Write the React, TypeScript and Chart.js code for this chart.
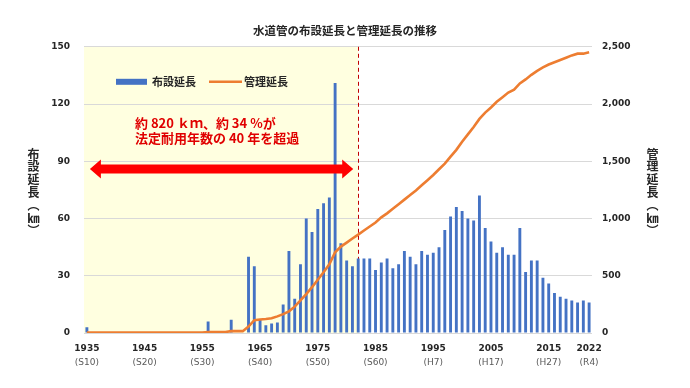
import { useEffect, useRef } from 'react';
import { Chart, registerables } from 'chart.js';

Chart.register(...registerables);

// ---- data ----
const years = [
  1935, 1936, 1937, 1938, 1939, 1940, 1941, 1942, 1943, 1944,
  1945, 1946, 1947, 1948, 1949, 1950, 1951, 1952, 1953, 1954,
  1955, 1956, 1957, 1958, 1959, 1960, 1961, 1962, 1963, 1964,
  1965, 1966, 1967, 1968, 1969, 1970, 1971, 1972, 1973, 1974,
  1975, 1976, 1977, 1978, 1979, 1980, 1981, 1982, 1983, 1984,
  1985, 1986, 1987, 1988, 1989, 1990, 1991, 1992, 1993, 1994,
  1995, 1996, 1997, 1998, 1999, 2000, 2001, 2002, 2003, 2004,
  2005, 2006, 2007, 2008, 2009, 2010, 2011, 2012, 2013, 2014,
  2015, 2016, 2017, 2018, 2019, 2020, 2021, 2022,
];

// 布設延長 (km) per year
const placedLength = [
  3, 0, 0, 0, 0, 0, 0, 0, 0, 0,
  0, 0, 0, 0, 0, 0, 0, 0, 0, 0,
  0, 6, 0, 0, 0, 7, 0, 0, 40, 35,
  7, 4, 5, 5.5, 15, 43, 18, 36, 60, 53,
  65, 68, 71, 131, 47, 38, 35, 39, 39, 39,
  33, 37, 39, 34, 36, 43, 40, 36, 43, 41,
  42, 45, 54, 61, 66, 64, 60, 59, 72, 55,
  48, 42, 45, 41, 41, 55, 32, 38, 38, 29,
  26, 21, 19, 18, 17, 16, 17, 16,
];

// 管理延長 (km) per year
const managedLength = [
  3, 3, 3, 3, 3, 3, 3, 3, 3, 3,
  3, 3, 3, 3, 3, 3, 3, 3, 3, 3,
  3, 9, 9, 9, 9, 16, 16, 16, 56, 112,
  118, 122, 128, 145, 165, 189, 230, 285, 340, 400,
  465, 530, 600, 705, 755, 790, 825, 859, 895, 930,
  965, 1010, 1045, 1085, 1125, 1165, 1205, 1245, 1290, 1335,
  1380, 1430, 1480, 1540, 1600, 1670, 1735, 1800, 1870, 1925,
  1970, 2020, 2060, 2100, 2125, 2180, 2215, 2255, 2290, 2320,
  2345, 2365, 2385, 2405, 2425, 2440, 2440, 2452,
];

const tickYears = [1935, 1945, 1955, 1965, 1975, 1985, 1995, 2005, 2015, 2022];
const tickEras = ['(S10)', '(S20)', '(S30)', '(S40)', '(S50)', '(S60)', '(H7)', '(H17)', '(H27)', '(R4)'];

const titleText = '水道管の布設延長と管理延長の推移';
const seriesNames = ['布設延長', '管理延長'];
const noteLines = ['約 820 ｋｍ、約 34 %が', '法定耐用年数の 40 年を超過'];
const leftAxisTitle = ['布', '設', '延', '長', '︵', '㎞', '︶'];
const rightAxisTitle = ['管', '理', '延', '長', '︵', '㎞', '︶'];

const shadeStartYear = 1935;
const shadeEndYear = 1982;
const arrowLevel = 86; // km on left axis

const leftMax = 150;
const leftStep = 30;
const rightMax = 2500;
const rightStep = 500;

// ---- styles ----
const JP = '"Noto Sans CJK JP", "Noto Sans", sans-serif';
const NUM = '"DejaVu Sans", "Noto Sans CJK JP", sans-serif';
const BLUE = '#4472C4';
const ORANGE = '#ED7D31';
const TEXT = '#262626';

const decorPlugin = {
  id: 'decor',
  beforeDraw(chart: any) {
    const { ctx, chartArea, scales } = chart;
    const xs = scales.x;
    const x0 = chartArea.left;
    const x1 = xs.getPixelForValue(years.indexOf(shadeEndYear));
    ctx.save();
    ctx.fillStyle = '#FFFFE0';
    ctx.fillRect(x0, chartArea.top, x1 - x0, chartArea.bottom - chartArea.top);
    ctx.restore();
  },
  beforeDatasetsDraw(chart: any) {
    const { ctx, chartArea, scales } = chart;
    const x1 = scales.x.getPixelForValue(years.indexOf(shadeEndYear));
    ctx.save();
    ctx.strokeStyle = '#C00000';
    ctx.lineWidth = 1;
    ctx.setLineDash([4, 3]);
    ctx.beginPath();
    ctx.moveTo(Math.round(x1) + 0.5, chartArea.top);
    ctx.lineTo(Math.round(x1) + 0.5, chartArea.bottom);
    ctx.stroke();
    ctx.restore();
  },
  afterDatasetsDraw(chart: any) {
    const { ctx, chartArea, scales } = chart;
    const xs = scales.x;
    const ys = scales.y;
    // double arrow
    const xL = xs.getPixelForValue(years.indexOf(shadeStartYear)) + 3;
    const xR = xs.getPixelForValue(years.indexOf(shadeEndYear)) - 5;
    const cy = ys.getPixelForValue(arrowLevel);
    const sh = 4.5, hh = 9.5, hl = 11;
    ctx.save();
    ctx.fillStyle = '#FF0000';
    ctx.beginPath();
    ctx.moveTo(xL, cy);
    ctx.lineTo(xL + hl, cy - hh);
    ctx.lineTo(xL + hl, cy - sh);
    ctx.lineTo(xR - hl, cy - sh);
    ctx.lineTo(xR - hl, cy - hh);
    ctx.lineTo(xR, cy);
    ctx.lineTo(xR - hl, cy + hh);
    ctx.lineTo(xR - hl, cy + sh);
    ctx.lineTo(xL + hl, cy + sh);
    ctx.lineTo(xL + hl, cy + hh);
    ctx.closePath();
    ctx.fill();

    // note
    ctx.fillStyle = '#E00000';
    ctx.font = `bold 13px ${JP}`;
    ctx.textAlign = 'left';
    ctx.textBaseline = 'middle';
    const nx = chartArea.left + 51;
    ctx.fillText(noteLines[0], nx, chartArea.top + 76.5);
    ctx.fillText(noteLines[1], nx, chartArea.top + 91);

    // legend
    const ly = chartArea.top + 35;
    const lx = chartArea.left + 32;
    ctx.fillStyle = BLUE;
    ctx.fillRect(lx, ly - 3, 31, 6);
    ctx.fillStyle = TEXT;
    ctx.font = `bold 11px ${JP}`;
    ctx.fillText(seriesNames[0], lx + 36, ly);
    ctx.strokeStyle = ORANGE;
    ctx.lineWidth = 2.5;
    ctx.beginPath();
    ctx.moveTo(lx + 93, ly);
    ctx.lineTo(lx + 126, ly);
    ctx.stroke();
    ctx.fillText(seriesNames[1], lx + 128, ly);
    ctx.restore();
  },
  afterDraw(chart: any) {
    const { ctx } = chart;
    ctx.save();
    ctx.fillStyle = TEXT;
    ctx.font = `bold 12px ${JP}`;
    ctx.textAlign = 'center';
    ctx.textBaseline = 'middle';
    const pitch = 12.8;
    const startY = 154;
    leftAxisTitle.forEach((c, i) => ctx.fillText(c, 33.5, startY + i * pitch));
    rightAxisTitle.forEach((c, i) => ctx.fillText(c, 652.5, startY + i * pitch));
    ctx.restore();
  },
};

function yearLabel(index: number) {
  const k = tickYears.indexOf(years[index]);
  return k >= 0 ? String(tickYears[k]) : '';
}
function eraLabel(index: number) {
  const k = tickYears.indexOf(years[index]);
  return k >= 0 ? tickEras[k] : '';
}

export default function App() {
  const ref = useRef<HTMLCanvasElement | null>(null);
  useEffect(() => {
    if (!ref.current) return;
    const chart = new Chart(ref.current, {
      type: 'bar',
      data: {
        labels: years.map(String),
        datasets: [
          {
            type: 'line',
            label: seriesNames[1],
            data: managedLength,
            yAxisID: 'y1',
            xAxisID: 'x',
            borderColor: ORANGE,
            backgroundColor: ORANGE,
            borderWidth: 2.6,
            pointRadius: 0,
            tension: 0,
            order: 0,
          } as any,
          {
            type: 'bar',
            label: seriesNames[0],
            data: placedLength,
            yAxisID: 'y',
            xAxisID: 'x',
            backgroundColor: BLUE,
            categoryPercentage: 1,
            barPercentage: 0.5,
            order: 1,
          },
        ],
      },
      plugins: [decorPlugin],
      options: {
        animation: false,
        responsive: false,
        layout: { padding: { left: 0, right: 0, top: 0, bottom: 22 } },
        plugins: {
          legend: { display: false },
          tooltip: { enabled: false },
          title: {
            display: true,
            text: titleText,
            color: TEXT,
            font: { family: JP, size: 11.5, weight: 'bold' },
            padding: { top: 24, bottom: 9 },
          },
        },
        scales: {
          x: {
            type: 'category',
            position: 'bottom',
            offset: true,
            grid: { display: false, drawTicks: false },
            border: { display: false },
            ticks: {
              autoSkip: false,
              maxRotation: 0,
              minRotation: 0,
              padding: 10,
              color: TEXT,
              font: { family: NUM, size: 9, weight: 'bold' },
              callback: (_v: any, i: number) => yearLabel(i),
            },
            afterFit: (s: any) => { s.height = 19; },
          },
          x2: {
            type: 'category',
            position: 'bottom',
            offset: true,
            grid: { display: false, drawTicks: false },
            border: { display: false },
            ticks: {
              autoSkip: false,
              maxRotation: 0,
              minRotation: 0,
              padding: 5,
              color: '#595959',
              font: { family: NUM, size: 9 },
              callback: (_v: any, i: number) => eraLabel(i),
            },
            afterFit: (s: any) => { s.height = 14; },
          },
          y: {
            position: 'left',
            min: 0,
            max: leftMax,
            grid: { color: '#D9D9D9', drawTicks: false },
            border: { display: false },
            ticks: {
              stepSize: leftStep,
              padding: 14,
              color: TEXT,
              font: { family: NUM, size: 9, weight: 'bold' },
            },
            afterFit: (s: any) => { s.width = 84; },
          },
          y1: {
            position: 'right',
            min: 0,
            max: rightMax,
            grid: { drawOnChartArea: false, drawTicks: false },
            border: { display: false },
            ticks: {
              stepSize: rightStep,
              padding: 10,
              color: TEXT,
              font: { family: NUM, size: 9, weight: 'bold' },
              callback: (v: any) => Number(v).toLocaleString('en-US'),
            },
            afterFit: (s: any) => { s.width = 98; },
          },
        },
      },
    });
    return () => chart.destroy();
  }, []);

  return (
    <div style={{ position: 'fixed', left: 0, top: 0, width: 690, height: 388, background: '#fff' }}>
      <canvas ref={ref} width={690} height={388} style={{ display: 'block', width: 690, height: 388 }} />
    </div>
  );
}
